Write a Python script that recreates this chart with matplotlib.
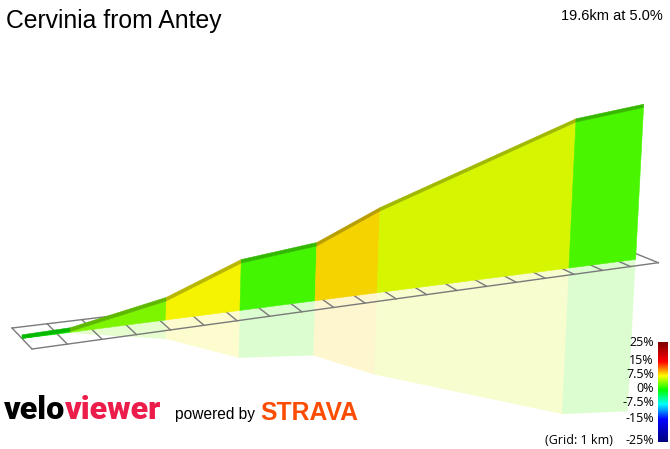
import matplotlib

matplotlib.use("Agg")
import matplotlib.pyplot as plt
import numpy as np
from matplotlib.colors import LinearSegmentedColormap
from matplotlib.patches import Polygon

# ========= data =========
title = "Cervinia from Antey"
dist_km = [0.0, 1.37, 4.17, 6.41, 8.75, 10.74, 17.22, 19.6]
elev_m = [1074, 1079, 1185, 1355, 1404, 1573, 2002, 2054]
grid_km = 20
cbar_values = [25, 15, 7.5, 0, -7.5, -15, -25]
cbar_labels = ["25%", "15%", "7.5%", "0%", "-7.5%", "-15%", "-25%"]
cmap_nodes = [
    (-25, "#00007f"),
    (-15, "#0000ff"),
    (-7.5, "#00ffff"),
    (0, "#00ff00"),
    (7.5, "#ffff00"),
    (15, "#ff0000"),
    (25, "#7f0000"),
]

# ========= view (screen pixels) =========
BL, BR = np.array([12.0, 328.0]), np.array([635.0, 253.3])  # back rail ends
FL, FR = np.array([32.0, 349.0]), np.array([658.3, 262.7])  # front rail ends
persp = 0.136  # depth growth over the grid length
g0 = 0.1757  # px per metre of elevation at the start
band_m = 21  # road top band thickness
cbar_y = [342, 361, 375, 389, 403, 418, 440]  # label rows of the colour key
logo_base = 419

grade_cmap = LinearSegmentedColormap.from_list(
    "grade", [((v + 25) / 50, c) for v, c in cmap_nodes]
)


def t_of(d):
    return d * (1 + persp) / (grid_km + persp * d)


def proj(d, w, z):
    t = t_of(d)
    back = BL + t * (BR - BL)
    front = FL + t * (FR - FL)
    g = g0 / (1 + persp * d / grid_km)
    sx = 0.0116 + 0.0413 * t
    return back + (w + 0.5) * (front - back) + z * g * np.array([sx, -1.0])


fig = plt.figure(figsize=(6.7, 4.49), dpi=100)
ax = fig.add_axes([0, 0, 1, 1])

z = np.array(elev_m, dtype=float) - elev_m[0]

# ---- wall, top band and reflection ----
for i in range(len(dist_km) - 1):
    d0, d1 = dist_km[i], dist_km[i + 1]
    grade = 100 * (elev_m[i + 1] - elev_m[i]) / ((d1 - d0) * 1000)
    rgb = np.array(grade_cmap((grade + 25) / 50)[:3])
    face = rgb * 0.96
    band = rgb * 0.72
    refl = [proj(d0, 0, 0), proj(d1, 0, 0), proj(d1, 0, -z[i + 1]), proj(d0, 0, -z[i])]
    ax.add_patch(Polygon(refl, closed=True, fc=face, ec="none", alpha=0.19, zorder=1))
    wall = [proj(d0, 0, 0), proj(d1, 0, 0), proj(d1, 0, z[i + 1]), proj(d0, 0, z[i])]
    ax.add_patch(Polygon(wall, closed=True, fc=face, ec=face, lw=0.4, zorder=3))
    top = [
        proj(d0, 0, z[i]),
        proj(d1, 0, z[i + 1]),
        proj(d1, 0, z[i + 1] + band_m),
        proj(d0, 0, z[i] + band_m),
    ]
    ax.add_patch(Polygon(top, closed=True, fc=band, ec=band, lw=0.4, zorder=4))

# ---- 1 km grid ----
for w in (-0.5, 0.5):
    a, b = proj(0, w, 0), proj(grid_km, w, 0)
    ax.plot([a[0], b[0]], [a[1], b[1]], color="#7a7a7a", lw=1.0, zorder=2)
for k in range(grid_km + 1):
    a, b = proj(k, -0.5, 0), proj(k, 0.5, 0)
    ax.plot([a[0], b[0]], [a[1], b[1]], color="#7a7a7a", lw=1.0, zorder=2)

# ---- titles ----
ax.text(6, 28, title, fontsize=17.8, family="Liberation Sans", va="baseline", ha="left")
gain = elev_m[-1] - elev_m[0]
summary = f"{dist_km[-1]:.1f}km at {100 * gain / (dist_km[-1] * 1000):.1f}%"
ax.text(663, 19.5, summary, fontsize=10.5, family="Liberation Sans", va="baseline", ha="right")

# ---- colour key ----
ys = np.linspace(cbar_y[0], cbar_y[-1], 200)
vals = np.interp(ys, cbar_y, cbar_values)
img = grade_cmap((vals + 25) / 50)[:, None, :]
ax.imshow(img, extent=[658, 668, cbar_y[-1] + 2, cbar_y[0]], aspect="auto", zorder=5)
for y, lab in zip(cbar_y, cbar_labels):
    ax.text(654, y, lab, fontsize=9, family="Open Sans", va="center", ha="right")
ax.text(613, cbar_y[-1], "(Grid: 1 km)", fontsize=9, family="Open Sans", va="center", ha="right")

ax.set_xlim(0, 670)
ax.set_ylim(449, 0)
ax.axis("off")

# ---- logos ----
logo_kw = dict(family="Roboto", weight="black", va="baseline", ha="left")
t1 = ax.text(4, logo_base, "velo", fontsize=22, color="black", **logo_kw)
t2 = ax.text(60, logo_base, "viewer", fontsize=22, color="#ec1c4b", **logo_kw)
fig.canvas.draw()
inv = ax.transData.inverted()
b1 = t1.get_window_extent().transformed(inv)
b2 = t2.get_window_extent().transformed(inv)
size = 22 * 158 / ((b1.x1 - b1.x0) + (b2.x1 - b2.x0))
t1.set_fontsize(size)
t2.set_fontsize(size)
fig.canvas.draw()
b1 = t1.get_window_extent().transformed(inv)
t2.set_x(b1.x1)

ax.text(175, logo_base, "powered by", fontsize=11.2, family="Liberation Sans",
        va="baseline", ha="left")
ts = ax.text(260, logo_base + 1, "STRAVA", fontsize=17, family="Liberation Sans",
             weight="bold", color="#fc4c02", va="baseline", ha="left")
fig.canvas.draw()
bs = ts.get_window_extent().transformed(inv)
ts.set_fontsize(17 * 98 / (bs.x1 - bs.x0))

fig.savefig("out.png", dpi=100)
